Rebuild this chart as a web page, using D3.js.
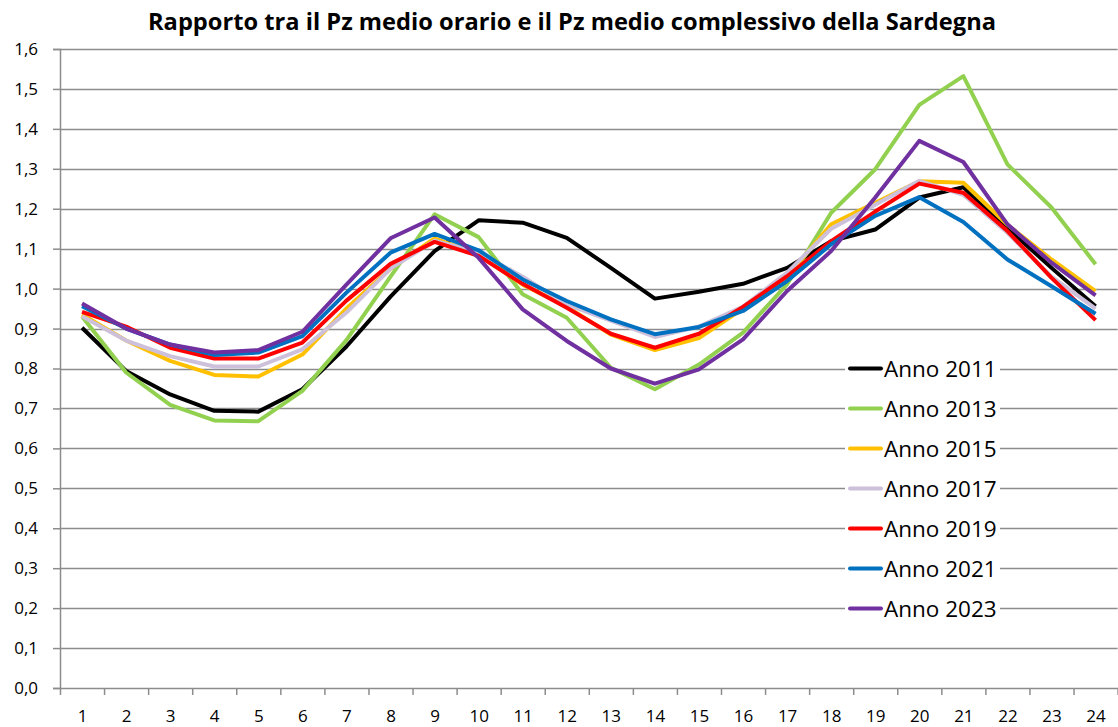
<!DOCTYPE html>
<meta charset="utf-8">
<script src="https://d3js.org/d3.v7.min.js"></script>
<style>
  body { margin: 0; background: #fff; }
  text { font-family: "Open Sans", "Noto Sans", sans-serif; fill: #000; }
</style>
<body>
<div id="chart"></div>
<script>
  // hours on the x axis
  var hours = d3.range(1, 25);

  // ratio values, one array per year
  var anno2011 = [0.902, 0.794, 0.735, 0.694, 0.692, 0.748, 0.855, 0.980, 1.094, 1.171, 1.165, 1.127, 1.052, 0.975, 0.992, 1.012, 1.052, 1.119, 1.148, 1.228, 1.254, 1.152, 1.052, 0.956];
  var anno2013 = [0.930, 0.790, 0.709, 0.670, 0.668, 0.744, 0.871, 1.030, 1.186, 1.129, 0.986, 0.927, 0.802, 0.748, 0.810, 0.890, 1.011, 1.190, 1.299, 1.460, 1.532, 1.311, 1.203, 1.061];
  var anno2015 = [0.935, 0.870, 0.819, 0.784, 0.780, 0.835, 0.950, 1.050, 1.126, 1.085, 1.010, 0.955, 0.885, 0.846, 0.876, 0.950, 1.030, 1.161, 1.215, 1.269, 1.265, 1.160, 1.073, 0.994];
  var anno2017 = [0.931, 0.870, 0.831, 0.805, 0.805, 0.848, 0.940, 1.050, 1.120, 1.090, 1.030, 0.960, 0.920, 0.879, 0.905, 0.955, 1.040, 1.150, 1.210, 1.270, 1.235, 1.140, 1.030, 0.950];
  var anno2019 = [0.942, 0.905, 0.852, 0.825, 0.825, 0.865, 0.970, 1.062, 1.117, 1.082, 1.012, 0.952, 0.887, 0.852, 0.887, 0.954, 1.031, 1.119, 1.193, 1.263, 1.240, 1.144, 1.027, 0.921];
  var anno2021 = [0.956, 0.900, 0.860, 0.834, 0.840, 0.881, 0.990, 1.090, 1.137, 1.096, 1.023, 0.969, 0.923, 0.886, 0.904, 0.944, 1.019, 1.111, 1.182, 1.229, 1.167, 1.073, 1.006, 0.937];
  var anno2023 = [0.963, 0.900, 0.860, 0.840, 0.846, 0.892, 1.010, 1.126, 1.178, 1.077, 0.948, 0.869, 0.800, 0.762, 0.798, 0.873, 0.994, 1.094, 1.228, 1.370, 1.317, 1.161, 1.065, 0.983];

  var seriesNames = ["Anno 2011", "Anno 2013", "Anno 2015", "Anno 2017", "Anno 2019", "Anno 2021", "Anno 2023"];
  var seriesValues = [anno2011, anno2013, anno2015, anno2017, anno2019, anno2021, anno2023];
  var seriesColors = ["#000000", "#92D050", "#FFC000", "#CCC0DA", "#FF0000", "#0070C0", "#7030A0"];

  var yTicks = d3.range(0, 17).map(function(d) { return d / 10; });

  var W = 1118, H = 727;
  var margin = {top: 49, right: 0.4, bottom: 39, left: 60};

  var svg = d3.select("#chart").append("svg")
      .attr("width", W)
      .attr("height", H);

  var x = d3.scaleLinear().domain([0.5, 24.5]).range([margin.left, W - margin.right]);
  var y = d3.scaleLinear().domain([0, 1.6]).range([H - margin.bottom, margin.top]);

  // title
  svg.append("text")
      .attr("x", 572)
      .attr("y", 30)
      .attr("text-anchor", "middle")
      .style("font-size", "23px")
      .style("font-weight", "bold")
      .attr("textLength", 848)
      .attr("lengthAdjust", "spacingAndGlyphs")
      .text("Rapporto tra il Pz medio orario e il Pz medio complessivo della Sardegna");

  // horizontal gridlines
  svg.append("g")
    .selectAll("line")
    .data(yTicks.slice(1))
    .enter().append("line")
      .attr("x1", x(0.5))
      .attr("x2", x(24.5))
      .attr("y1", function(d) { return Math.round(y(d)) + 0.5; })
      .attr("y2", function(d) { return Math.round(y(d)) + 0.5; })
      .attr("stroke", "#8c8c8c")
      .attr("stroke-width", 1.5);

  // y axis
  var yAxis = svg.append("g")
      .attr("transform", "translate(" + x(0.5) + ",0)")
      .call(d3.axisLeft(y)
        .tickValues(yTicks)
        .tickSize(7)
        .tickPadding(15)
        .tickFormat(function(d) { return d3.format(".1f")(d).replace(".", ","); }));
  yAxis.select(".domain").attr("stroke", "#8c8c8c").attr("stroke-width", 1.5);
  yAxis.selectAll(".tick line").attr("stroke", "#8c8c8c").attr("stroke-width", 1.5);
  yAxis.selectAll(".tick text").style("font-size", "17px").attr("fill", "#000");

  // x axis: ticks between categories, labels in the middle
  var xAxis = svg.append("g")
      .attr("transform", "translate(0," + y(0) + ")")
      .call(d3.axisBottom(x)
        .tickValues(d3.range(0.5, 25, 1))
        .tickSize(7)
        .tickSizeOuter(0)
        .tickFormat(""));
  xAxis.select(".domain").attr("stroke", "#8c8c8c").attr("stroke-width", 1.5);
  xAxis.selectAll(".tick line").attr("stroke", "#8c8c8c").attr("stroke-width", 1.5);

  var xLabels = svg.append("g")
      .attr("transform", "translate(0," + y(0) + ")")
      .call(d3.axisBottom(x).tickValues(hours).tickSize(0).tickPadding(22));
  xLabels.select(".domain").remove();
  xLabels.selectAll(".tick text").style("font-size", "17px").attr("fill", "#000");

  // lines
  var line = d3.line()
      .x(function(d, i) { return x(hours[i]); })
      .y(function(d) { return y(d); });

  svg.append("g")
    .selectAll("path")
    .data(seriesValues)
    .enter().append("path")
      .attr("d", line)
      .attr("fill", "none")
      .attr("stroke", function(d, i) { return seriesColors[i]; })
      .attr("stroke-width", 4)
      .attr("stroke-linejoin", "round");

  // legend
  var legend = svg.append("g");
  legend.append("rect")
      .attr("x", 845)
      .attr("y", 352)
      .attr("width", 155)
      .attr("height", 272)
      .attr("fill", "#fff");

  var item = legend.selectAll("g")
    .data(seriesNames)
    .enter().append("g")
      .attr("transform", function(d, i) { return "translate(0," + (368.5 + i * 40) + ")"; });

  item.append("line")
      .attr("x1", 850)
      .attr("x2", 881)
      .attr("stroke", function(d, i) { return seriesColors[i]; })
      .attr("stroke-width", 4)
      .attr("stroke-linecap", "round");

  item.append("text")
      .attr("x", 884)
      .attr("dy", "0.36em")
      .style("font-size", "22.5px")
      .text(function(d) { return d; });
</script>
</body>
